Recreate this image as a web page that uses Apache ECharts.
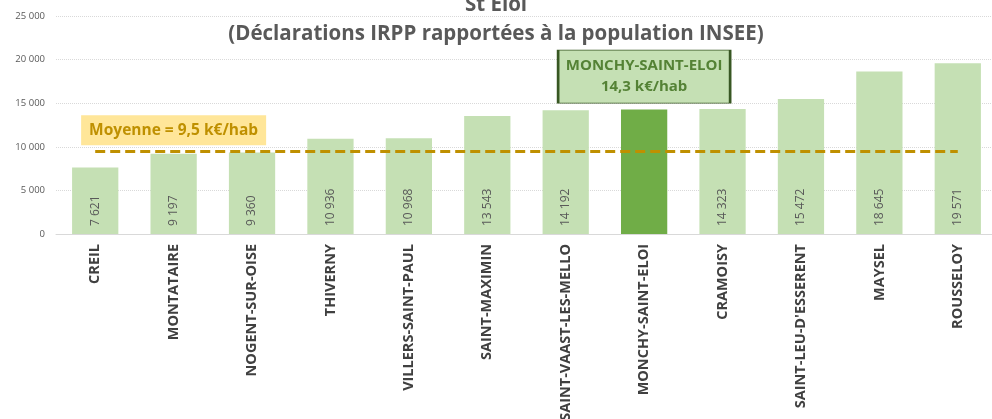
<!DOCTYPE html>
<html>
<head>
<meta charset="utf-8">
<script src="https://cdn.jsdelivr.net/npm/echarts@6/dist/echarts.min.js"></script>
<style>
  html, body { margin: 0; padding: 0; background: #fff; }
  #chart { width: 992px; height: 419px; }
</style>
</head>
<body>
<div id="chart"></div>
<script>
const communes = [
  'CREIL', 'MONTATAIRE', 'NOGENT-SUR-OISE', 'THIVERNY', 'VILLERS-SAINT-PAUL',
  'SAINT-MAXIMIN', 'SAINT-VAAST-LES-MELLO', 'MONCHY-SAINT-ELOI', 'CRAMOISY',
  'SAINT-LEU-D\'ESSERENT', 'MAYSEL', 'ROUSSELOY'
]
const revenuParHab = [7621, 9197, 9360, 10936, 10968, 13543, 14192, 14270, 14323, 15472, 18645, 19571]
const moyenne = 9500
const commune = 'MONCHY-SAINT-ELOI'
const yTicks = [0, 5000, 10000, 15000, 20000, 25000]

const FONT = 'Open Sans'
const fmt = v => String(v).replace(/\B(?=(\d{3})+(?!\d))/g, '\u00a0')
const hi = communes.indexOf(commune)

const barData = revenuParHab.map((v, i) => i === hi
  ? { value: v, itemStyle: { color: '#70AD47' }, label: { show: false } }
  : v)

const chart = echarts.init(document.getElementById('chart'))
chart.setOption({
  animation: false,
  textStyle: { fontFamily: FONT },
  title: {
    text: 'St Eloi\n(Déclarations IRPP rapportées à la population INSEE)',
    left: 'center',
    top: -14,
    textStyle: {
      fontFamily: FONT, fontSize: 20.5, fontWeight: 'bold', color: '#595959', lineHeight: 29
    }
  },
  grid: { left: 56, right: -5, top: 16, bottom: 185, outerBoundsMode: 'none' },
  xAxis: {
    type: 'category',
    data: communes,
    axisLine: { lineStyle: { color: '#D9D9D9' } },
    axisTick: { show: false },
    axisLabel: {
      rotate: 90, interval: 0, margin: 10,
      fontFamily: FONT, fontSize: 14.5, fontWeight: 'bold', color: '#404040'
    }
  },
  yAxis: {
    type: 'value',
    min: yTicks[0], max: yTicks[yTicks.length - 1], interval: 5000,
    axisLine: { show: false },
    axisTick: { show: false },
    splitLine: { lineStyle: { color: '#D9D9D9', type: 'dotted' } },
    axisLabel: { fontFamily: FONT, fontSize: 9.5, color: '#595959', margin: 11, formatter: fmt }
  },
  series: [{
    type: 'bar',
    data: barData,
    barCategoryGap: '41%',
    itemStyle: { color: '#C5E0B4' },
    label: {
      show: true,
      position: 'insideBottom',
      rotate: 90,
      align: 'left',
      verticalAlign: 'middle',
      distance: 8,
      fontFamily: FONT, fontSize: 12, color: '#595959',
      formatter: p => fmt(p.value)
    },
    markLine: {
      symbol: 'none',
      silent: true,
      lineStyle: { color: '#BF9000', width: 3, type: [10, 5] },
      label: { show: false },
      data: [[
        { coord: [communes[0], moyenne] },
        { coord: [communes[communes.length - 1], moyenne] }
      ]]
    },
    markPoint: {
      silent: true,
      data: [
        {
          coord: [communes[1], moyenne],
          symbol: 'rect',
          symbolSize: [185, 30],
          symbolOffset: [0, -21],
          itemStyle: { color: '#FFE699' },
          label: {
            show: true,
            formatter: 'Moyenne = 9,5 k€/hab',
            fontFamily: FONT, fontSize: 15.5, fontWeight: 'bold', color: '#BF9000'
          }
        },
        {
          coord: [commune, revenuParHab[hi]],
          symbol: 'rect',
          symbolSize: [172, 53],
          symbolOffset: [0, -33],
          itemStyle: { color: '#C5E0B4', borderColor: '#385723', borderWidth: 1.5 },
          label: {
            show: true,
            formatter: commune + '\n14,3 k€/hab',
            lineHeight: 21,
            fontFamily: FONT, fontSize: 15, fontWeight: 'bold', color: '#548235'
          }
        }
      ]
    }
  }]
})
</script>
</body>
</html>
